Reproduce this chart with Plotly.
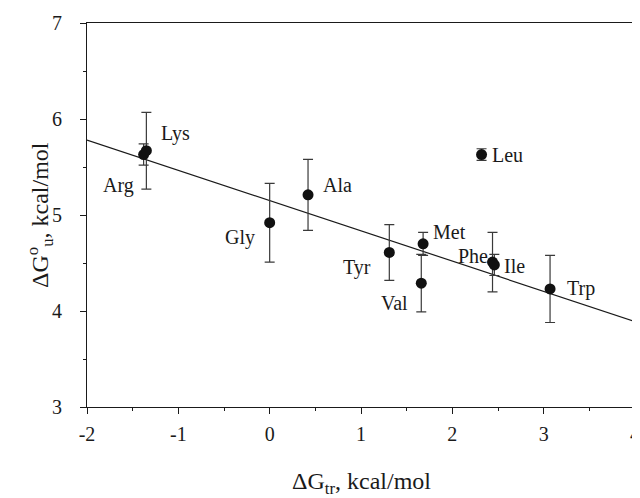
import plotly.graph_objects as go

# ---- data ----
residues = ["Arg", "Lys", "Gly", "Ala", "Tyr", "Met", "Val", "Phe", "Ile", "Leu", "Trp"]
dG_tr = [-1.38, -1.35, 0.00, 0.42, 1.31, 1.68, 1.66, 2.44, 2.46, 2.32, 3.07]
dG_u = [5.63, 5.67, 4.92, 5.21, 4.61, 4.70, 4.29, 4.51, 4.48, 5.63, 4.23]
err_u = [0.11, 0.40, 0.41, 0.37, 0.29, 0.12, 0.30, 0.31, 0.11, 0.06, 0.35]

fit_x = [-2, 4]
fit_y = [5.78, 3.89]

x_ticks = [-2, -1, 0, 1, 2, 3, 4]
x_tick_labels = ["-2", "-1", "0", "1", "2", "3", "4"]
y_ticks = [3, 4, 5, 6, 7]
y_tick_labels = ["3", "4", "5", "6", "7"]

x_title = "ΔG<sub>tr</sub>, kcal/mol"
y_title = "ΔG<sup>o</sup><sub>u</sub>, kcal/mol"

# ---- label placement (pixels): anchor side, x shift, y shift (up positive) ----
label_style = {
    "Arg": ("right", -8, -31),
    "Lys": ("left", 13, 17),
    "Gly": ("right", -13, -15),
    "Ala": ("left", 13, 10),
    "Tyr": ("right", -16, -15),
    "Met": ("left", 8, 12),
    "Val": ("right", -11, -20),
    "Phe": ("right", -3, 6),
    "Ile": ("left", 8, -1),
    "Leu": ("left", 8, 0),
    "Trp": ("left", 15, 0),
}

FONT = "Liberation Serif"
INK = "#1a1a1a"

fig = go.Figure()

fig.add_trace(go.Scatter(
    x=fit_x, y=fit_y, mode="lines",
    line=dict(color=INK, width=1.2),
    hoverinfo="skip", showlegend=False,
))

fig.add_trace(go.Scatter(
    x=dG_tr, y=dG_u, mode="markers",
    marker=dict(color="#111111", size=11),
    error_y=dict(type="data", array=err_u, visible=True,
                 color="#3a3a3a", thickness=1.2, width=5),
    text=residues, showlegend=False,
))

for name, xv, yv in zip(residues, dG_tr, dG_u):
    anchor, dx, dy = label_style[name]
    fig.add_annotation(
        x=xv, y=yv, xref="x", yref="y", text=name, showarrow=False,
        xanchor=anchor, yanchor="middle", xshift=dx, yshift=dy,
        font=dict(family=FONT, size=20, color=INK),
    )

# axis titles
fig.add_annotation(
    x=0.5, y=0, xref="paper", yref="paper", text=x_title, showarrow=False,
    xanchor="center", yanchor="middle", yshift=-76,
    font=dict(family=FONT, size=24, color=INK),
)
fig.add_annotation(
    x=0, y=0.5, xref="paper", yref="paper", text=y_title, showarrow=False,
    xanchor="center", yanchor="middle", xshift=-47, textangle=-90,
    font=dict(family=FONT, size=24, color=INK),
)

axis_common = dict(
    showline=True, linecolor=INK, linewidth=1.2, mirror=True,
    ticks="outside", ticklen=6, tickwidth=1.2, tickcolor=INK,
    showgrid=False, zeroline=False, automargin=False,
    ticklabeloverflow="allow",
    tickfont=dict(family=FONT, size=20, color=INK),
)

fig.update_xaxes(
    range=[-2, 4], tickvals=x_ticks, ticktext=x_tick_labels, ticklabelstandoff=3,
    minor=dict(dtick=0.5, ticks="outside", ticklen=3, tickwidth=1.2, tickcolor=INK, showgrid=False),
    **axis_common,
)
fig.update_yaxes(
    range=[3, 7], tickvals=y_ticks, ticktext=y_tick_labels, ticklabelstandoff=14,
    minor=dict(dtick=0.5, ticks="outside", ticklen=3, tickwidth=1.2, tickcolor=INK, showgrid=False),
    **axis_common,
)

# the page body has an 8px default margin, so the figure is sized to fit the window
fig.update_layout(
    width=632, height=490,
    margin=dict(l=79, r=5, t=15, b=91),
    plot_bgcolor="white", paper_bgcolor="white",
    font=dict(family=FONT, color=INK),
)

fig.write_html("out.html")
